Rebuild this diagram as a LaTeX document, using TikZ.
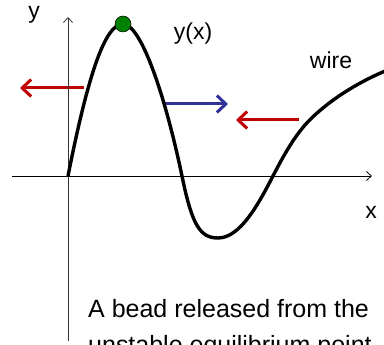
\documentclass[tikz,border=0pt]{standalone}
\usepackage{fontspec}
\setmainfont{Liberation Sans}
\usetikzlibrary{arrows.meta}
\definecolor{pushRed}{RGB}{192,0,0}
\definecolor{pushBlue}{RGB}{48,48,150}
\definecolor{beadGreen}{RGB}{0,128,0}
\tikzset{beadpanel/.style={
  x=1pt, y=1pt,
  axis/.style={line width=0.8pt, black!80, -{Straight Barb[length=5pt, width=9pt]}},
  wirecurve/.style={line width=3.4pt, black, line join=round},
  force/.style={line width=3pt, -{Straight Barb[length=9pt, width=17pt, line width=3pt]}},
  lab/.style={font=\fontsize{23}{26}\selectfont, inner sep=0pt},
}}
\begin{document}
\begin{tikzpicture}[beadpanel]
\useasboundingbox (0,0) rectangle (384,345);
\clip (0,0) rectangle (384,345);

% ---- force arrows ----
\coordinate (fl0) at (84,257);  \coordinate (fl1) at (20,257);
\coordinate (fr0) at (165,241); \coordinate (fr1) at (228,241);
\coordinate (fb0) at (299,225); \coordinate (fb1) at (236,225);
\draw[force, pushRed]  (fl0) -- (fl1);
\draw[force, pushBlue] (fr0) -- (fr1);
\draw[force, pushRed]  (fb0) -- (fb1);

% ---- axes ----
\coordinate (o) at (68,169);
\draw[axis] (68,4) -- (68,328);
\draw[axis, black] (12,169) -- (372,169);
\node[lab] (ylab) at (34,330) {y};
\node[lab] (xlab) at (371,133) {x};

% ---- the wire y(x) ----
\draw[wirecurve] (o) .. controls (88,270) and (105,321) .. (123,321)
  .. controls (141,321) and (165,250) .. (182,169)
  .. controls (192,120) and (200,107) .. (218,107)
  .. controls (240,107) and (258,140) .. (273,169)
  .. controls (282,186.4) and (292,205) .. (305,220)
  .. controls (320,237) and (350,260) .. (390,276);
\node[lab] (ylx) at (193,311) {y(x)};
\node[lab] (wire) at (331,285) {wire};

% ---- bead at the top ----
\node[circle, fill=beadGreen, draw=black, line width=0.5pt, minimum size=16pt, inner sep=0pt] (bead) at (123,321) {};

% ---- caption (second line runs off the page) ----
\node[anchor=base west, inner sep=0pt, align=left, font=\fontsize{25}{36}\selectfont] (cap) at (88,-9)
  {A bead released from the\\ unstable equilibrium point};

\end{tikzpicture}
\end{document}
